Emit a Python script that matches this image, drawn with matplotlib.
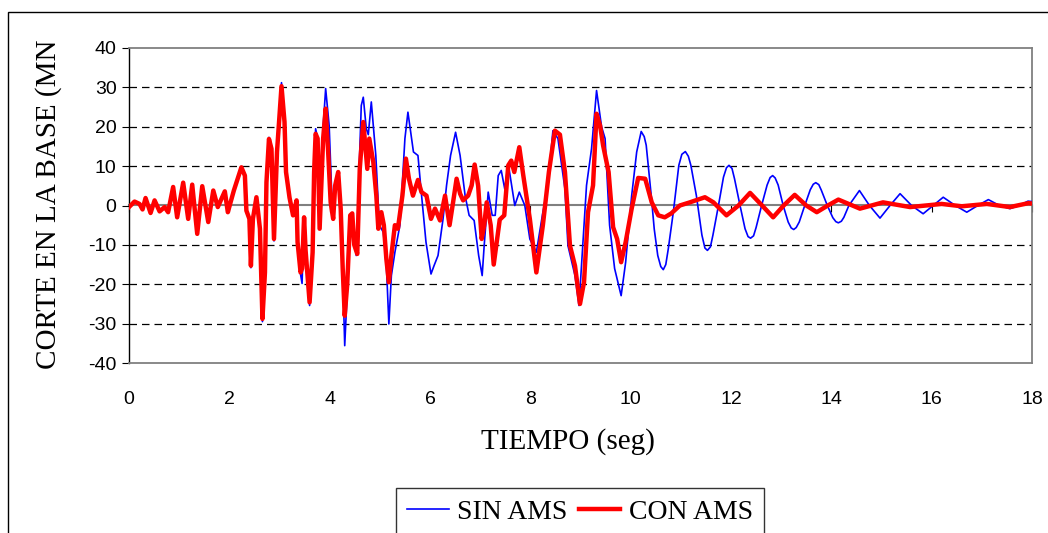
import matplotlib
matplotlib.use("Agg")
import matplotlib.pyplot as plt
from matplotlib.patches import Rectangle

plt.rcParams["axes.unicode_minus"] = False

# CON AMS (red) as (time, value) turning points
t_con = [0.00, 0.11, 0.21, 0.27, 0.33, 0.43, 0.51, 0.61, 0.71, 0.78, 0.88, 0.96, 1.08, 1.18, 1.26,
         1.36, 1.46, 1.58, 1.68, 1.77, 1.91, 1.97, 2.09, 2.24, 2.31, 2.34, 2.40, 2.43, 2.47, 2.54,
         2.61, 2.66, 2.71, 2.74, 2.79, 2.84, 2.89, 2.95, 3.04, 3.10, 3.13, 3.20, 3.27, 3.34, 3.36,
         3.42, 3.45, 3.49, 3.52, 3.60, 3.66, 3.69, 3.72, 3.76, 3.80, 3.87, 3.92, 3.97, 4.02, 4.07,
         4.11, 4.17, 4.22, 4.26, 4.30, 4.35, 4.41, 4.45, 4.49, 4.55, 4.60, 4.67, 4.75, 4.79, 4.87,
         4.93, 4.97, 5.03, 5.08, 5.13, 5.18, 5.23, 5.30, 5.36, 5.45, 5.52, 5.58, 5.66, 5.76, 5.83,
         5.93, 6.02, 6.10, 6.20, 6.30, 6.39, 6.46, 6.53, 6.60, 6.66, 6.76, 6.83, 6.89, 6.96, 7.03,
         7.08, 7.13, 7.21, 7.27, 7.33, 7.39, 7.48, 7.56, 7.62, 7.68, 7.78, 7.86, 7.99, 8.12, 8.25,
         8.37, 8.49, 8.59, 8.69, 8.79, 8.89, 8.99, 9.07, 9.15, 9.25, 9.32, 9.39, 9.45, 9.56, 9.65,
         9.73, 9.81, 9.90, 10.02, 10.15, 10.29, 10.42, 10.55, 10.68, 10.81, 10.98, 11.18, 11.48,
         11.65, 11.91, 12.15, 12.38, 12.62, 12.84, 13.05, 13.27, 13.50, 13.71, 13.93, 14.14, 14.57,
         15.03, 15.57, 16.20, 16.60, 17.10, 17.56, 17.93, 18.00]
v_con = [-0.4, 1.0, 0.4, -1.0, 1.9, -1.9, 1.3, -1.5, -0.4, -1.7, 4.7, -3.0, 5.8, -3.4, 5.3,
         -7.2, 4.9, -4.2, 3.8, -0.4, 3.6, -1.7, 3.8, 9.7, 7.6, -1.3, -3.4, -15.3, -3.4, 2.1,
         -5.9, -28.8, -17.0, 5.9, 16.9, 14.4, -8.5, 13.6, 30.3, 21.2, 8.5, 2.0, -2.5, 1.3, -9.3,
         -17.0, -16.0, -3.0, -11.4, -24.6, -11.9, 8.5, 18.2, 17.0, -5.9, 17.0, 24.6, 13.6, 0.8, -3.4,
         5.1, 8.5, -0.8, -16.0, -28.0, -20.0, -2.5, -2.0, -10.0, -12.3, 9.3, 21.2, 9.3, 17.0, 11.0,
         2.5, -5.9, -1.7, -5.0, -13.6, -19.5, -12.7, -5.0, -5.9, 2.5, 11.9, 6.8, 2.5, 6.5, 3.4,
         2.5, -3.4, -0.8, -3.8, 2.5, -5.0, 0.8, 6.8, 3.0, 1.3, 2.5, 5.1, 10.4, 5.0, -8.5,
         -5.0, 0.8, -5.0, -15.0, -9.3, -3.6, -2.5, 10.2, 11.4, 8.5, 14.8, 7.6, -3.4, -17.0, -5.0,
         8.5, 19.0, 18.0, 8.5, -10.2, -15.3, -25.0, -19.5, -1.7, 5.1, 23.3, 20.3, 15.3, 8.5, -5.5,
         -8.5, -14.4, -9.3, -0.8, 7.0, 6.8, 0.8, -2.5, -3.0, -2.0, 0.0, 0.8, 2.1,
         0.8, -2.5, 0.0, 3.2, 0.0, -3.0, 0.0, 2.7, 0.0, -1.7, 0.0, 1.5, -0.8,
         0.8, -0.4, 0.4, -0.2, 0.4, -0.4, 0.6, 0.5]

# SIN AMS (blue)
t_sin = [0.00, 0.11, 0.21, 0.27, 0.33, 0.43, 0.51, 0.61, 0.71, 0.78, 0.88, 0.96, 1.08, 1.18, 1.26,
         1.36, 1.46, 1.58, 1.68, 1.77, 1.91, 1.97, 2.09, 2.24, 2.31, 2.34, 2.40, 2.43, 2.47, 2.54,
         2.61, 2.66, 2.71, 2.74, 2.79, 2.84, 2.89, 2.95, 3.04, 3.10, 3.13, 3.20, 3.27, 3.34, 3.36,
         3.42, 3.45, 3.49, 3.52, 3.60, 3.66, 3.69, 3.72, 3.76, 3.81, 3.87, 3.92, 3.99, 4.05, 4.11,
         4.16, 4.22, 4.26, 4.30, 4.35, 4.40, 4.45, 4.53, 4.63, 4.67, 4.73, 4.77, 4.83, 4.92, 4.99,
         5.07, 5.13, 5.18, 5.23, 5.30, 5.40, 5.50, 5.56, 5.67, 5.76, 5.82, 5.92, 6.02, 6.08, 6.16,
         6.26, 6.33, 6.41, 6.51, 6.60, 6.70, 6.78, 6.88, 6.97, 7.04, 7.08, 7.16, 7.24, 7.30, 7.36,
         7.42, 7.49, 7.56, 7.69, 7.78, 7.89, 7.99, 8.12, 8.25, 8.35, 8.45, 8.55, 8.69, 8.75, 8.89,
         8.97, 9.12, 9.22, 9.32, 9.42, 9.49, 9.58, 9.68, 9.81, 9.90, 10.02, 10.12, 10.21, 10.27,
         10.31, 10.41, 10.47, 10.54, 10.60, 10.65, 10.70, 10.75, 10.85, 10.96, 11.02, 11.09, 11.15,
         11.20, 11.31, 11.42, 11.48, 11.53, 11.59, 11.64, 11.75, 11.85, 11.91, 11.96, 12.02, 12.07,
         12.18, 12.28, 12.34, 12.39, 12.45, 12.50, 12.61, 12.72, 12.78, 12.83, 12.88, 12.94, 13.04,
         13.14, 13.20, 13.25, 13.30, 13.36, 13.47, 13.58, 13.64, 13.69, 13.75, 13.80, 13.92, 14.03,
         14.09, 14.14, 14.20, 14.25, 14.35, 14.56, 14.76, 14.97, 15.17, 15.37, 15.60, 15.83, 16.03,
         16.23, 16.47, 16.70, 16.92, 17.13, 17.35, 17.56, 17.75, 17.92, 18.00]
v_sin = [-0.4, 1.0, 0.4, -1.0, 1.9, -1.9, 1.3, -1.5, -0.4, -1.7, 4.9, -3.0, 5.9, -3.4, 5.5,
         -7.2, 4.9, -4.2, 3.8, -0.4, 3.6, -1.7, 3.8, 9.7, 7.6, -1.3, -3.4, -15.8, -3.4, 2.1,
         -5.9, -29.5, -17.0, 5.9, 17.3, 14.4, -9.0, 13.6, 31.2, 21.5, 8.5, 2.0, -2.5, 1.3, -9.3,
         -17.5, -19.8, -3.0, -11.4, -25.4, -11.9, 8.5, 19.5, 17.0, -5.0, 20.0, 29.7, 20.3, 0.0, 5.1,
         7.6, -0.8, -17.0, -35.6, -22.0, -6.0, -3.0, -12.7, 25.4, 27.5, 19.5, 18.0, 26.3, 12.7, -5.0,
         -6.8, -15.0, -30.1, -17.8, -11.9, -5.0, 17.0, 23.7, 13.6, 12.7, 4.2, -9.3, -17.4, -15.3, -12.7,
         -3.4, 5.1, 12.7, 18.6, 12.7, 2.5, -2.5, -3.8, -12.7, -17.8, -10.2, 3.4, -2.5, -2.5, 7.6,
         8.9, 4.2, 10.6, 0.0, 3.4, 0.0, -8.5, -11.9, -1.7, 5.1, 19.0, 17.0, 4.2, -10.2, -17.8,
         -25.4, 5.1, 14.4, 29.2, 20.0, 17.0, -5.0, -16.0, -22.9, -14.4, 2.5, 13.6, 18.8, 17.5,
         15.3, 2.5, -6.0, -12.7, -15.5, -16.3, -15.0, -11.0, -1.7, 10.2, 13.0, 13.7, 12.5,
         10.2, 2.5, -7.5, -10.8, -11.4, -10.5, -7.5, 0.0, 7.2, 9.6, 10.2, 9.4, 6.8,
         0.0, -5.9, -7.9, -8.3, -7.7, -5.6, 0.0, 5.2, 7.1, 7.6, 7.0, 5.2, 0.0,
         -4.2, -5.7, -6.1, -5.6, -4.2, 0.0, 4.0, 5.4, 5.8, 5.3, 3.9, 0.0, -3.1,
         -4.1, -4.4, -4.0, -3.0, 0.0, 3.8, 0.0, -3.2, 0.0, 3.0, 0.0, -2.1, 0.0,
         2.1, 0.0, -1.7, 0.0, 1.5, 0.0, -0.8, 0.0, 1.1, 1.0]

x_ticks = [0, 2, 4, 6, 8, 10, 12, 14, 16, 18]
y_ticks = [-40, -30, -20, -10, 0, 10, 20, 30, 40]

fig = plt.figure(figsize=(10.48, 5.33), dpi=100)
ax = fig.add_axes([129 / 1048, 1 - 363 / 533, 903 / 1048, 315 / 533])

# outer chart frame (cut by the picture edge)
fig.patches.append(Rectangle((8 / 1048, -0.1), 1.2, 1 - 12 / 533 + 0.1,
                             transform=fig.transFigure, fill=False, ec="black", lw=1.0))

for y in y_ticks[1:-1]:
    if y != 0:
        ax.axhline(y, color="black", lw=0.9, dashes=(6, 4), zorder=1)

ax.plot(t_sin, v_sin, color="#0000ff", lw=1.2, label="SIN AMS", zorder=3)
ax.plot(t_con, v_con, color="#ff0000", lw=3.2, label="CON AMS", zorder=4)

ax.set_xlim(0, 18)
ax.set_ylim(-40, 40)
ax.set_xticks(x_ticks)
ax.set_yticks(y_ticks)

for s in ["top", "right", "bottom"]:
    ax.spines[s].set_color("#808080")
    ax.spines[s].set_linewidth(1.3)
ax.spines["left"].set_color("black")
ax.spines["left"].set_linewidth(1.0)

ax.tick_params(axis="x", length=0, pad=20, labelsize=14)
ax.tick_params(axis="y", direction="out", length=5, labelsize=14, pad=4)
for lab in ax.get_xticklabels() + ax.get_yticklabels():
    lab.set_fontfamily("Liberation Sans")

# horizontal axis crossing at zero
zero = ax.secondary_xaxis(0.5)
zero.set_xticks(x_ticks)
zero.tick_params(direction="in", length=5, color="black", labeltop=False, labelbottom=False)
for s in ["top", "bottom"]:
    zero.spines[s].set_color("#808080")
    zero.spines[s].set_linewidth(1.5)

ax.set_xlabel("TIEMPO (seg)", fontfamily="Liberation Serif", fontsize=21)
ax.xaxis.set_label_coords((568 - 129) / 903, (363 - 428) / 315)
ax.set_ylabel("CORTE EN LA BASE (MN", fontfamily="Liberation Serif", fontsize=21)
ax.yaxis.set_label_coords((62 - 129) / 903, (363 - 204) / 315)

leg = fig.legend(loc="upper left", bbox_to_anchor=(396 / 1048, 1 - 488 / 533), ncol=2,
                 prop={"family": "Liberation Serif", "size": 20}, frameon=True, fancybox=False,
                 edgecolor="black", borderaxespad=0, handlelength=1.5, handletextpad=0.3,
                 columnspacing=0.4, borderpad=0.4)
leg.get_frame().set_linewidth(1.0)

fig.savefig("out.png", dpi=100)
